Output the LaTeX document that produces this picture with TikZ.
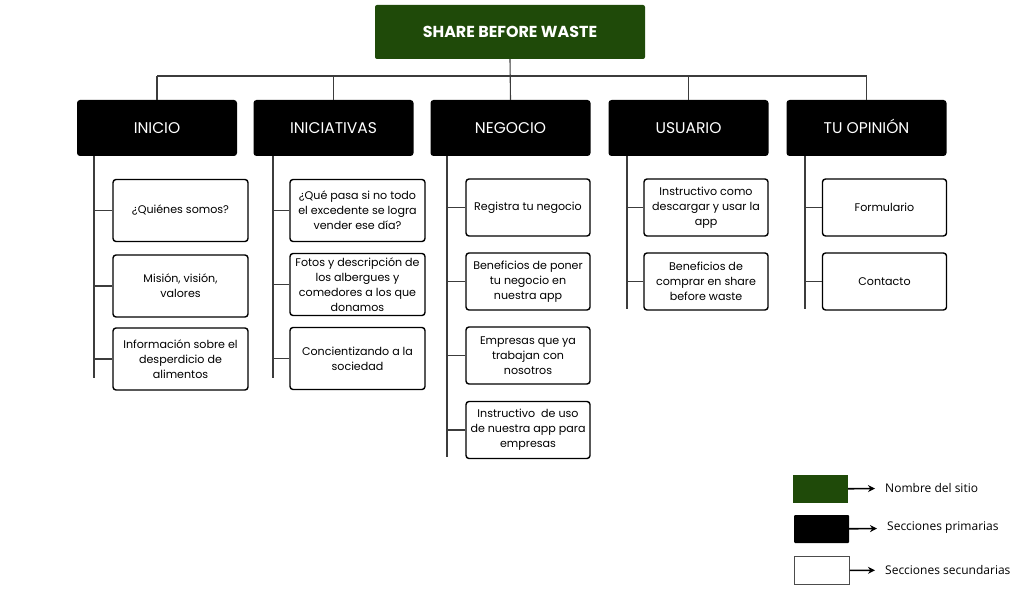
\documentclass[tikz,border=0pt]{standalone}
\usepackage{fontspec}
\setmainfont{Poppins}
\newfontfamily\legendfont{Open Sans}
\usetikzlibrary{arrows.meta}
\definecolor{sitegreen}{RGB}{31,74,9}
\definecolor{linkgray}{RGB}{60,60,60}

\begin{document}
\begin{tikzpicture}[x=1pt,y=-1pt,
	site/.style={fill=sitegreen,rounded corners=2pt,minimum width=270pt,minimum height=54pt,text=white,font=\bfseries\fontsize{15.9}{18}\selectfont},
	primary/.style={fill=black,rounded corners=3pt,minimum width=160pt,minimum height=56pt,text=white,text height=11.5pt,text depth=0pt,font=\fontsize{15.5}{18}\selectfont},
	secondary/.style={draw=black,line width=1.4pt,rounded corners=3pt,fill=white,align=center,inner xsep=2pt,font=\fontsize{11.1}{15}\selectfont},
	secA/.style={secondary,minimum width=135pt,minimum height=62pt},
	secB/.style={secondary,minimum width=124pt,minimum height=57pt},
	link/.style={draw=linkgray,line width=1.1pt},
	legbox/.style={minimum width=55pt,minimum height=28pt,inner sep=0pt},
	legtext/.style={anchor=west,inner xsep=10pt,font=\legendfont\fontsize{12}{14}\selectfont},
	legarrow/.style={-{Stealth[length=7pt,width=7pt]},line width=1.6pt}
	]
	\useasboundingbox (0,0) rectangle (1024,601);

	% site and primary sections
	\node[site] (site) at (510,32) {SHARE BEFORE WASTE};
	\node[primary] (inicio) at (157,128) {INICIO};
	\node[primary] (iniciativas) at (333.5,128) {INICIATIVAS};
	\node[primary] (negocio) at (510.5,128) {NEGOCIO};
	\node[primary] (usuario) at (688.5,128) {USUARIO};
	\node[primary] (opinion) at (866.5,128) {TU OPINIÓN};

	% secondary sections
	\node[secA] (inicio-1) at (180.5,210.5) {¿Quiénes somos?};
	\node[secA] (inicio-2) at (180.5,286) {Misión, visión,\\valores};
	\node[secA] (inicio-3) at (180.5,359) {Información sobre el\\desperdicio de\\alimentos};

	\node[secA] (iniciativas-1) at (357.5,210.5) {¿Qué pasa si no todo\\el excedente se logra\\vender ese día?};
	\node[secA] (iniciativas-2) at (357.5,284.5) {Fotos y descripción de\\los albergues y\\comedores a los que\\donamos};
	\node[secA] (iniciativas-3) at (357.5,358.5) {Concientizando a la\\sociedad};

	\node[secB] (negocio-1) at (528,207.5) {Registra tu negocio};
	\node[secB] (negocio-2) at (528,281.5) {Beneficios de poner\\tu negocio en\\nuestra app};
	\node[secB] (negocio-3) at (528,355.5) {Empresas que ya\\trabajan con\\nosotros};
	\node[secB] (negocio-4) at (528,430) {Instructivo\ \ de uso\\de nuestra app para\\empresas};

	\node[secB] (usuario-1) at (706,207.5) {Instructivo como\\descargar y usar la\\app};
	\node[secB] (usuario-2) at (706,281.5) {Beneficios de\\comprar en share\\before waste};

	\node[secB] (opinion-1) at (884.5,207.5) {Formulario};
	\node[secB] (opinion-2) at (884.5,281.5) {Contacto};

	% bus and trunks
	\coordinate (bus) at (510,76);
	\coordinate (inicio-end) at (94,378);
	\coordinate (iniciativas-end) at (273,378);
	\coordinate (negocio-end) at (447,457);
	\coordinate (usuario-end) at (627,309);
	\coordinate (opinion-end) at (805,309);

	\draw[link] (inicio.north |- bus) -- (opinion.north |- bus);
	\draw[link] (site.south) -- (negocio.north);
	\foreach \p in {inicio,iniciativas,usuario,opinion}
		\draw[link] (\p.north) -- (\p.north |- bus);
	\foreach \p in {inicio,iniciativas,negocio,usuario,opinion}
		\draw[link] (\p-end |- \p.south) -- (\p-end);
	\foreach \p/\n in {inicio/1,inicio/2,inicio/3,iniciativas/1,iniciativas/2,iniciativas/3,
		negocio/1,negocio/2,negocio/3,negocio/4,usuario/1,usuario/2,opinion/1,opinion/2}
		\draw[link] (\p-\n.west) -- (\p-\n.west -| \p-end);

	% legend
	\node[legbox,fill=sitegreen] (leg-site) at (820.5,489) {};
	\node[legbox,fill=black,rounded corners=1pt] (leg-primary) at (821.5,529) {};
	\node[legbox,draw=black!70,line width=0.8pt,fill=white] (leg-secondary) at (822,570.5) {};
	\node[legtext] (leg-site-txt) at (875,488) {Nombre del sitio};
	\node[legtext] (leg-primary-txt) at (877,528) {Secciones primarias};
	\node[legtext] (leg-secondary-txt) at (875,570) {Secciones secundarias};
	\draw[legarrow] (leg-site) -- (leg-site-txt);
	\draw[legarrow] (leg-primary) -- (leg-primary-txt);
	\draw[legarrow] (leg-secondary) -- (leg-secondary-txt);
\end{tikzpicture}
\end{document}
